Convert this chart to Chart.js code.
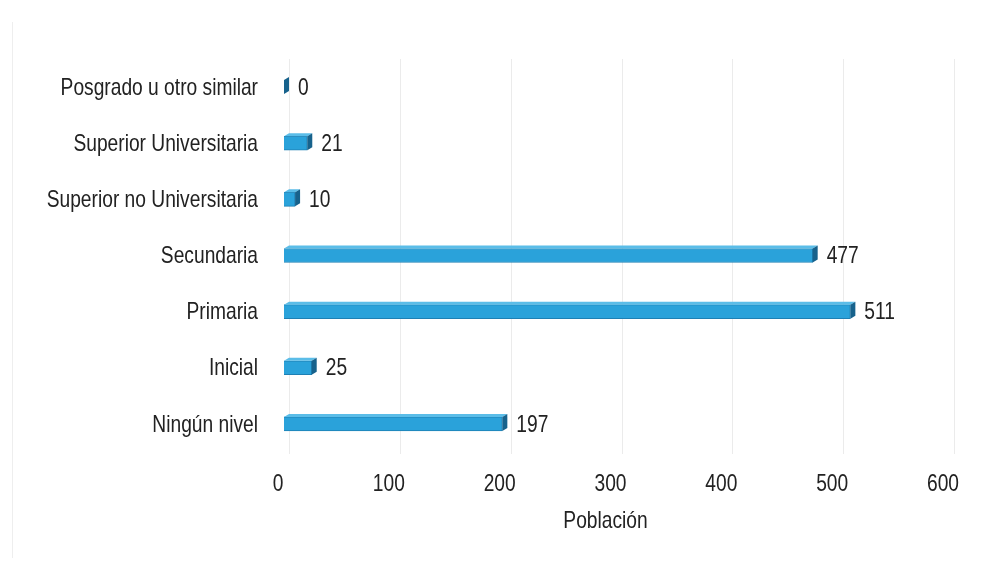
<!DOCTYPE html>
<html>
<head>
<meta charset="utf-8">
<script src="https://cdn.jsdelivr.net/npm/chart.js@4.4.1/dist/chart.umd.min.js"></script>
<style>
  html, body { margin: 0; padding: 0; background: #ffffff; }
  #wrap { width: 1000px; height: 565px; position: relative; }
</style>
</head>
<body>
<div id="wrap"><canvas id="c" width="1000" height="565"></canvas></div>
<script>
// Nivel educativo alcanzado por la población
const categories = [
  'Posgrado u otro similar',
  'Superior Universitaria',
  'Superior no Universitaria',
  'Secundaria',
  'Primaria',
  'Inicial',
  'Ningún nivel'
];
const poblacion = [0, 21, 10, 477, 511, 25, 197];
const xTicks = [0, 100, 200, 300, 400, 500, 600];
const xTitle = 'Población';

const FONT = '"Liberation Sans", Arial, sans-serif';
const TEXT = '#222222';
const SIZE = 24;      // font size for every text
const SQUEEZE = 0.8;  // horizontal narrowing of the type
const DEPTH_X = 5, DEPTH_Y = 3;  // oblique depth of the 3D bars

// Narrow text helper
function narrowText(ctx, str, x, y, align) {
  ctx.save();
  ctx.translate(x, y);
  ctx.scale(SQUEEZE, 1);
  ctx.font = SIZE + 'px ' + FONT;
  ctx.fillStyle = TEXT;
  ctx.textAlign = align;
  ctx.textBaseline = 'middle';
  ctx.fillText(str, 0, 0);
  ctx.restore();
}

// Back-wall gridlines, set back by the bar depth
const backWall = {
  id: 'backWall',
  beforeDatasetsDraw(chart) {
    const { ctx, chartArea } = chart;
    const xs = chart.scales.x;
    ctx.save();
    ctx.strokeStyle = '#ebebeb';
    ctx.lineWidth = 1;
    xTicks.forEach(v => {
      const px = Math.round(xs.getPixelForValue(v) + DEPTH_X) + 0.5;
      ctx.beginPath();
      ctx.moveTo(px, chartArea.top);
      ctx.lineTo(px, chartArea.bottom + 2);
      ctx.stroke();
    });
    // faint frame edge on the left
    ctx.strokeStyle = '#eeeeee';
    ctx.beginPath();
    ctx.moveTo(12.5, 22);
    ctx.lineTo(12.5, 558);
    ctx.stroke();
    ctx.restore();
  }
};

// Depth faces on each bar, value labels and axis text
const bar3d = {
  id: 'bar3d',
  afterDatasetsDraw(chart) {
    const ctx = chart.ctx;
    const meta = chart.getDatasetMeta(0);
    const d = DEPTH_X, h = DEPTH_Y;
    ctx.save();
    meta.data.forEach((el, i) => {
      const p = el.getProps(['x', 'y', 'base', 'height'], true);
      const top = p.y - p.height / 2;
      const bottom = p.y + p.height / 2;
      // top face
      ctx.fillStyle = '#5bbde8';
      ctx.beginPath();
      ctx.moveTo(p.base, top);
      ctx.lineTo(p.base + d, top - h);
      ctx.lineTo(p.x + d, top - h);
      ctx.lineTo(p.x, top);
      ctx.closePath();
      ctx.fill();
      // right end face
      ctx.fillStyle = '#17628c';
      ctx.beginPath();
      ctx.moveTo(p.x, top);
      ctx.lineTo(p.x + d, top - h);
      ctx.lineTo(p.x + d, bottom - h);
      ctx.lineTo(p.x, bottom);
      ctx.closePath();
      ctx.fill();
      narrowText(ctx, String(poblacion[i]), p.x + d + 9, p.y + 1, 'left');
    });
    ctx.restore();
  },
  afterDraw(chart) {
    const { ctx, chartArea } = chart;
    const xs = chart.scales.x, ys = chart.scales.y;
    categories.forEach((c, i) => {
      narrowText(ctx, c, chartArea.left - 26, ys.getPixelForValue(i) + 1, 'right');
    });
    xTicks.forEach(v => {
      narrowText(ctx, String(v), xs.getPixelForValue(v) - 6, chartArea.bottom + 32, 'center');
    });
    narrowText(ctx, xTitle, (chartArea.left + chartArea.right) / 2 - 11, chartArea.bottom + 69, 'center');
  }
};

new Chart(document.getElementById('c'), {
  type: 'bar',
  data: {
    labels: categories,
    datasets: [{
      data: poblacion,
      backgroundColor: '#2aa2da',
      borderColor: '#1e80b4',
      borderWidth: 1,
      borderSkipped: 'left',
      barThickness: 14
    }]
  },
  options: {
    indexAxis: 'y',
    responsive: false,
    animation: false,
    layout: { padding: { left: 276, right: 51, top: 59, bottom: 105 } },
    plugins: { legend: { display: false }, tooltip: { enabled: false } },
    scales: {
      x: {
        min: 0, max: 600,
        afterBuildTicks(scale) { scale.ticks = xTicks.map(v => ({ value: v })); },
        grid: { display: false },
        border: { display: false },
        ticks: { display: false },
        title: { display: false, text: xTitle }
      },
      y: {
        grid: { display: false },
        border: { display: false },
        ticks: { display: false }
      }
    }
  },
  plugins: [backWall, bar3d]
});
</script>
</body>
</html>
